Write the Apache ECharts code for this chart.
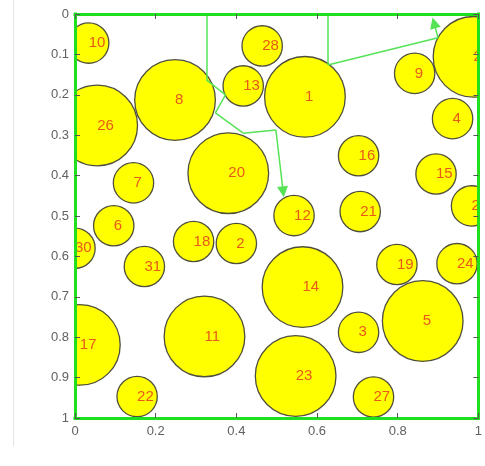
<!DOCTYPE html>
<html>
<head>
<meta charset="utf-8">
<script src="https://cdn.jsdelivr.net/npm/echarts@6/dist/echarts.min.js"></script>
<style>
  html, body { margin: 0; padding: 0; background: #ffffff; }
  #chart { width: 485px; height: 466px; }
</style>
</head>
<body>
<div id="chart"></div>
<script>
// Circle identifiers, centres (x, y) and radii in axis units
const circleIds = [10, 26, 8, 28, 13, 1, 20, 7, 9, 25, 4, 16, 15, 29, 12, 21,
                   6, 30, 31, 18, 2, 17, 11, 22, 14, 19, 24, 5, 3, 23, 27];
const circleX = [0.034, 0.055, 0.248, 0.464, 0.417, 0.570, 0.380, 0.145, 0.842, 0.988, 0.936, 0.703, 0.895, 0.983, 0.543, 0.707,
                 0.096, 0.000, 0.172, 0.294, 0.400, 0.012, 0.321, 0.154, 0.564, 0.798, 0.947, 0.862, 0.703, 0.547, 0.740];
const circleY = [0.072, 0.276, 0.213, 0.079, 0.178, 0.205, 0.394, 0.418, 0.147, 0.106, 0.259, 0.351, 0.396, 0.475, 0.499, 0.489,
                 0.524, 0.580, 0.625, 0.563, 0.568, 0.819, 0.798, 0.947, 0.676, 0.620, 0.618, 0.760, 0.788, 0.896, 0.948];
const circleR = [0.05, 0.1, 0.1, 0.05, 0.05, 0.1, 0.1, 0.05, 0.05, 0.1, 0.05, 0.05, 0.05, 0.05, 0.05, 0.05,
                 0.05, 0.05, 0.05, 0.05, 0.05, 0.1, 0.1, 0.05, 0.1, 0.05, 0.05, 0.1, 0.05, 0.1, 0.05];

// Two routes, each ending with an arrow
const routeA = [[0.326, 0], [0.326, 0.163], [0.373, 0.200], [0.348, 0.245], [0.417, 0.295], [0.498, 0.287], [0.516, 0.440]];
const routeB = [[0.627, 0], [0.627, 0.126], [0.900, 0.059], [0.890, 0.022]];

// Tick labels
const xTickLabels = ['0', '0.2', '0.4', '0.6', '0.8', '1'];
const yTickLabels = ['0', '0.1', '0.2', '0.3', '0.4', '0.5', '0.6', '0.7', '0.8', '0.9', '1'];

const FONT = '"Liberation Sans", Arial, Helvetica, sans-serif';
const BORDER_GREEN = '#1fdf1f';
const ROUTE_GREEN = '#55e355';

const circleData = circleIds.map((id, i) => [circleX[i], circleY[i], circleR[i], id]);

function splitRoute(route) {
  const plain = [];
  for (let i = 0; i < route.length - 2; i++) {
    plain.push({ coords: [route[i], route[i + 1]] });
  }
  const last = { coords: [route[route.length - 2], route[route.length - 1]] };
  return { plain, last };
}
const a = splitRoute(routeA);
const b = splitRoute(routeB);

const tickStyle = { show: true, inside: true, length: 5, lineStyle: { color: '#555555', width: 1 } };
const borderLine = { show: true, onZero: false, lineStyle: { color: BORDER_GREEN, width: 3, cap: 'square' } };

const chart = echarts.init(document.getElementById('chart'), null, { renderer: 'canvas' });
chart.setOption({
  animation: false,
  backgroundColor: '#ffffff',
  grid: { left: 75, right: 2, top: 14, bottom: 48, containLabel: false },
  graphic: [{
    type: 'line',
    shape: { x1: 13.5, y1: 0, x2: 13.5, y2: 446 },
    style: { stroke: '#e4e4e4', lineWidth: 1 },
    silent: true
  }],
  xAxis: [{
    type: 'value', position: 'bottom', min: 0, max: 1, interval: 0.2, z: 5,
    axisLine: borderLine, axisTick: tickStyle, splitLine: { show: false },
    axisLabel: {
      margin: 7, color: '#616161', fontSize: 13, fontFamily: FONT,
      formatter: (v, i) => xTickLabels[i]
    }
  }, {
    type: 'value', position: 'top', min: 0, max: 1, interval: 0.2, z: 5,
    axisLine: borderLine, axisTick: tickStyle, splitLine: { show: false },
    axisLabel: { show: false }
  }],
  yAxis: [{
    type: 'value', position: 'left', inverse: true, min: 0, max: 1, interval: 0.1, z: 5,
    axisLine: borderLine, axisTick: tickStyle, splitLine: { show: false },
    axisLabel: {
      margin: 6, color: '#616161', fontSize: 13, fontFamily: FONT,
      formatter: (v, i) => yTickLabels[i]
    }
  }, {
    type: 'value', position: 'right', inverse: true, min: 0, max: 1, interval: 0.1, z: 5,
    axisLine: borderLine, axisTick: tickStyle, splitLine: { show: false },
    axisLabel: { show: false }
  }],
  series: [{
    type: 'custom',
    clip: true,
    z: 2,
    data: circleData,
    encode: { x: 0, y: 1 },
    renderItem: function (params, api) {
      const c = api.coord([api.value(0), api.value(1)]);
      const r = api.size([api.value(2), 0])[0];
      return {
        type: 'group',
        children: [{
          type: 'circle',
          shape: { cx: c[0], cy: c[1], r: r },
          style: { fill: '#ffff00', stroke: '#4f4f3c', lineWidth: 1.3 }
        }, {
          type: 'text',
          x: c[0], y: c[1],
          style: {
            text: String(api.value(3)),
            fill: '#e85a1a',
            font: '15px ' + FONT,
            align: 'left',
            verticalAlign: 'middle'
          }
        }]
      };
    }
  }, {
    type: 'lines',
    coordinateSystem: 'cartesian2d',
    z: 3,
    symbol: ['none', 'none'],
    lineStyle: { color: ROUTE_GREEN, width: 1.5, opacity: 1, curveness: 0 },
    data: a.plain.concat(b.plain)
  }, {
    type: 'lines',
    coordinateSystem: 'cartesian2d',
    z: 3,
    symbol: ['none', 'triangle'],
    symbolSize: 11,
    lineStyle: { color: ROUTE_GREEN, width: 1.5, opacity: 1, curveness: 0 },
    itemStyle: { color: '#2fdc2f' },
    data: [a.last, b.last]
  }]
});
</script>
</body>
</html>
